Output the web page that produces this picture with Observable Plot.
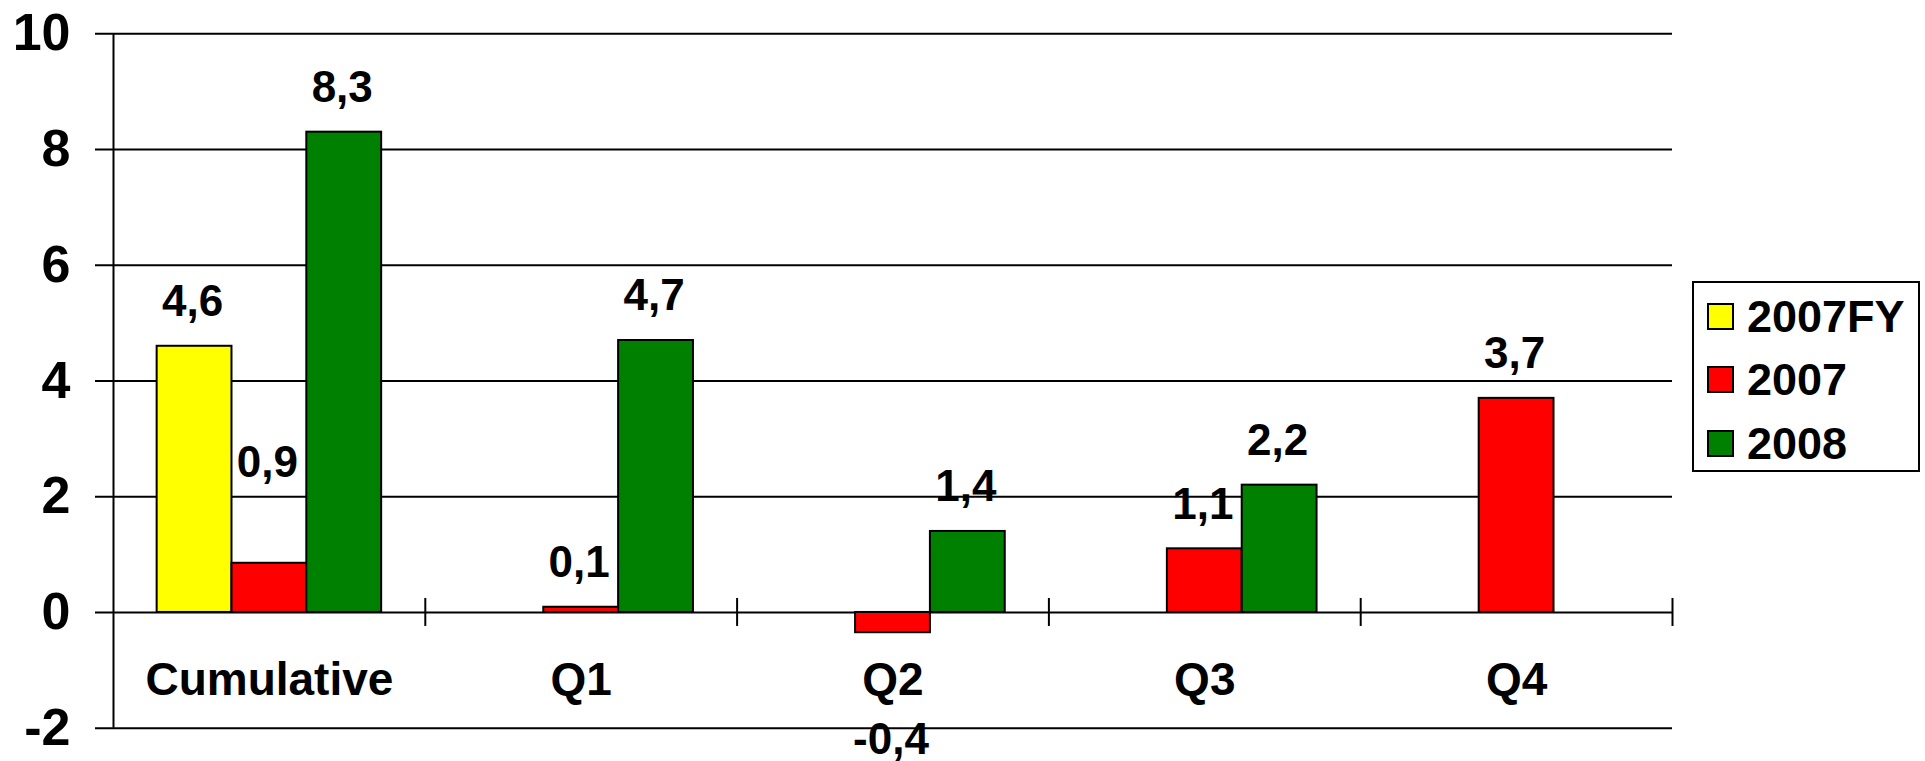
<!DOCTYPE html>
<html>
<head>
<meta charset="utf-8">
<script src="https://cdn.jsdelivr.net/npm/d3@7"></script>
<script src="https://cdn.jsdelivr.net/npm/@observablehq/plot@0.6"></script>
<style>
  html, body { margin: 0; padding: 0; background: #fff; }
  #wrap { position: relative; width: 1925px; height: 761px; font-family: "Liberation Sans", Arial, sans-serif; }
  #legend { position: absolute; left: 1692px; top: 281px; width: 228px; height: 191px; box-sizing: border-box; border: 2px solid #000; background: #fff; }
  .row { position: absolute; left: 13px; height: 27px; display: flex; align-items: center; }
  .sw { width: 27px; height: 27px; box-sizing: border-box; border: 2px solid #000; }
  .lt { margin-left: 13px; font-size: 45px; font-weight: bold; line-height: 27px; color: #000; white-space: nowrap; }
</style>
</head>
<body>
<div id="wrap"><div id="chart"></div><div id="legend"></div></div>
<script>
// ---- data ----
const categories = ["Cumulative", "Q1", "Q2", "Q3", "Q4"];
const seriesNames = ["2007FY", "2007", "2008"];
const values2007FY = [4.6, null, null, null, null];
const values2007 = [0.85, 0.09, -0.35, 1.1, 3.7];
const values2008 = [8.3, 4.7, 1.4, 2.2, null];
const labels2007FY = ["4,6", null, null, null, null];
const labels2007 = ["0,9", "0,1", "-0,4", "1,1", "3,7"];
const labels2008 = ["8,3", "4,7", "1,4", "2,2", null];
const yTicks = [-2, 0, 2, 4, 6, 8, 10];
const seriesColors = ["#FFFF00", "#FF0000", "#008000"];

// ---- layout / style ----
const barFrac = 0.24;                       // bar width as fraction of a category
const groupStart = (1 - 3 * barFrac) / 2;   // left padding inside a category
const labelDy = {default: -30, "Cumulative|2007": -86, "Q2|2007": 121};
const FONT = '"Liberation Sans", Arial, sans-serif';

const seriesValues = [values2007FY, values2007, values2008];
const seriesLabels = [labels2007FY, labels2007, labels2008];
const rows = [];
categories.forEach((c, i) => {
  seriesNames.forEach((s, j) => {
    const v = seriesValues[j][i];
    if (v == null) return;
    const x1 = i + groupStart + j * barFrac;
    rows.push({category: c, series: s, value: v, label: seriesLabels[j][i], x1, x2: x1 + barFrac});
  });
});

const dyOf = d => labelDy[d.category + "|" + d.series] ?? labelDy.default;
const dyGroups = d3.groups(rows, dyOf);

const chart = Plot.plot({
  width: 1925,
  height: 761,
  marginLeft: 113,
  marginRight: 253,
  marginTop: 33.3,
  marginBottom: 33.3,
  style: {fontFamily: FONT, fontWeight: "bold", background: "#fff", color: "#000", overflow: "visible"},
  x: {domain: [0, categories.length], axis: null},
  y: {domain: [-2, 10], axis: null},
  color: {domain: seriesNames, range: seriesColors},
  marks: [
    // gridlines, extended to the left to act as the y-axis ticks
    Plot.gridY(yTicks, {stroke: "#000", strokeOpacity: 1, strokeWidth: 2, insetLeft: -18}),
    // y tick labels
    Plot.text(yTicks, {
      y: d => d, text: d => String(d), frameAnchor: "left", textAnchor: "end",
      dx: -43, fontSize: 52, fontWeight: "bold", fill: "#000"
    }),
    // y axis line
    Plot.ruleX([0], {stroke: "#000", strokeWidth: 2}),
    // category boundary ticks on the zero line
    Plot.ruleX(d3.range(1, categories.length + 1), {y1: () => 0, y2: () => 0, insetTop: -14, insetBottom: -14, stroke: "#000", strokeWidth: 2}),
    // bars
    Plot.rect(rows, {x1: "x1", x2: "x2", y1: () => 0, y2: "value", fill: "series", stroke: "#000", strokeWidth: 2}),
    // value labels
    ...dyGroups.map(([dy, g]) => Plot.text(g, {
      x: d => (d.x1 + d.x2) / 2, y: "value", text: "label",
      lineAnchor: "bottom", dy, dx: -2, fontSize: 44, fontWeight: "bold", fill: "#000"
    })),
    // category labels
    Plot.text(categories, {
      x: (d, i) => i + 0.5, text: d => d, frameAnchor: "bottom", lineAnchor: "bottom",
      dy: -33.7, fontSize: 46, fontWeight: "bold", fill: "#000"
    })
  ]
});
document.getElementById("chart").appendChild(chart);

// legend
const legend = document.getElementById("legend");
seriesNames.forEach((s, j) => {
  const row = document.createElement("div");
  row.className = "row";
  row.style.top = (19.7 + 63.5 * j) + "px";
  const sw = document.createElement("div");
  sw.className = "sw";
  sw.style.background = seriesColors[j];
  const t = document.createElement("div");
  t.className = "lt";
  t.textContent = s;
  row.appendChild(sw); row.appendChild(t);
  legend.appendChild(row);
});
</script>
</body>
</html>
